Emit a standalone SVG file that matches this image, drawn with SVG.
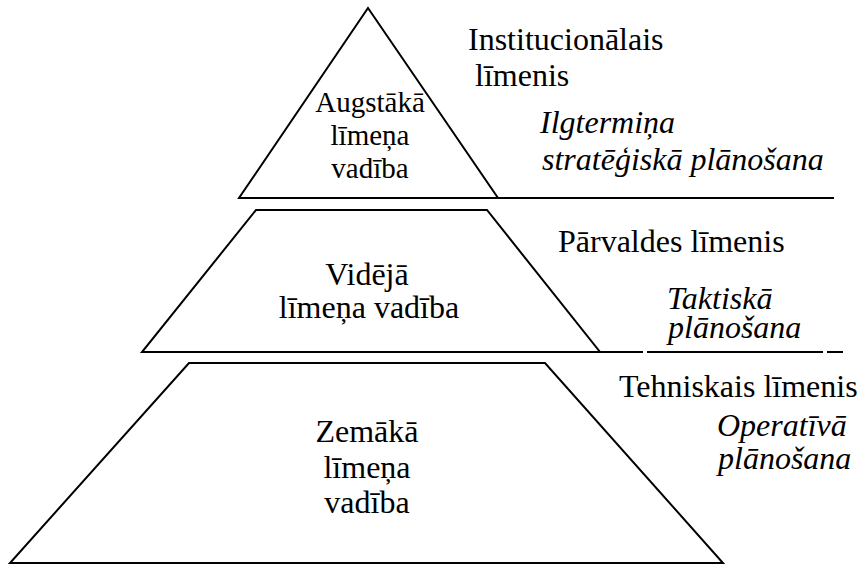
<svg xmlns="http://www.w3.org/2000/svg" width="864" height="565" viewBox="0 0 864 565">
  <style>
    .shape { fill: #ffffff; stroke: #000000; stroke-width: 2; stroke-linejoin: miter; }
    .rule { stroke: #000000; stroke-width: 2; fill: none; }
    text { font-family: "Liberation Serif", "DejaVu Serif", serif; font-size: 32px; fill: #000000; }
    .sm { font-size: 29px; }
    .mid { text-anchor: middle; }
    .it { font-style: italic; }
  </style>
  <rect width="864" height="565" fill="#ffffff"/>

  <!-- horizontal level rules extending to the right -->
  <g id="connectors">
    <line class="rule" x1="239" y1="198" x2="834" y2="198"/>
    <line class="rule" x1="142" y1="352" x2="643" y2="352"/>
    <line class="rule" x1="647" y1="352" x2="823" y2="352"/>
    <line class="rule" x1="827" y1="352" x2="843" y2="352"/>
    <line class="rule" x1="10" y1="563" x2="723" y2="563"/>
  </g>

  <!-- top level -->
  <g id="top-level" font-family="Liberation Serif, DejaVu Serif, serif">
    <polygon class="shape" points="368,8 498,198 239,198"/>
    <text class="sm mid" x="370" y="112">Augstākā</text>
    <text class="sm mid" x="370" y="145">līmeņa</text>
    <text class="sm mid" x="370" y="178">vadība</text>
  </g>

  <!-- middle level -->
  <g id="middle-level" font-family="Liberation Serif, DejaVu Serif, serif">
    <polygon class="shape" points="256,210 487,210 600,352 142,352"/>
    <text class="mid" x="367" y="285">Vidējā</text>
    <text class="mid" x="369" y="318">līmeņa vadība</text>
  </g>

  <!-- lower level -->
  <g id="lower-level" font-family="Liberation Serif, DejaVu Serif, serif">
    <polygon class="shape" points="189,363 545,363 723,563 10,563"/>
    <text class="mid" x="367" y="442">Zemākā</text>
    <text class="mid" x="367" y="478">līmeņa</text>
    <text class="mid" x="367" y="513">vadība</text>
  </g>

  <!-- level descriptions -->
  <g id="institutional" font-family="Liberation Serif, DejaVu Serif, serif">
    <text x="468" y="50">Institucionālais</text>
    <text x="475" y="86">līmenis</text>
    <text class="it" x="540" y="133">Ilgtermiņa</text>
    <text class="it" x="542" y="170">stratēģiskā plānošana</text>
  </g>

  <g id="management" font-family="Liberation Serif, DejaVu Serif, serif">
    <text x="558" y="252">Pārvaldes līmenis</text>
    <text class="it" x="667" y="309">Taktiskā</text>
    <text class="it" x="668" y="338">plānošana</text>
  </g>

  <g id="technical" font-family="Liberation Serif, DejaVu Serif, serif">
    <text x="619" y="397">Tehniskais līmenis</text>
    <text class="it" x="717" y="436">Operatīvā</text>
    <text class="it" x="718" y="469">plānošana</text>
  </g>
</svg>
